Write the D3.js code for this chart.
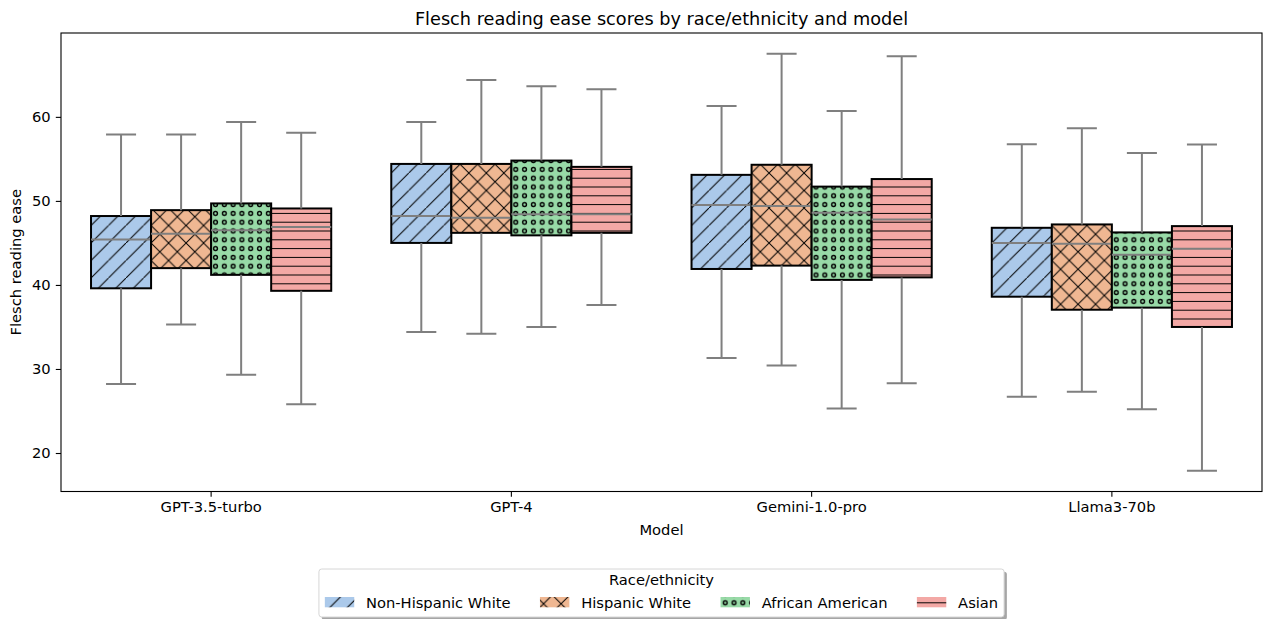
<!DOCTYPE html>
<html>
<head>
<meta charset="utf-8">
<script src="https://cdnjs.cloudflare.com/ajax/libs/d3/7.8.5/d3.min.js"></script>
<style>
  body { margin: 0; background: #fff; }
  svg { display: block; }
  text { font-family: "DejaVu Sans", sans-serif; fill: #000; }
</style>
</head>
<body>
<div id="chart"></div>
<script>
const models = ['GPT-3.5-turbo', 'GPT-4', 'Gemini-1.0-pro', 'Llama3-70b'];
const groups = ['Non-Hispanic White', 'Hispanic White', 'African American', 'Asian'];
const yTicks = [20, 30, 40, 50, 60];

// one row per model: [lower whisker, Q1, median, Q3, upper whisker]
const nonHispanicWhite = [
  [28.2, 39.6, 45.4, 48.2, 57.9],
  [34.4, 45.0, 48.2, 54.4, 59.4],
  [31.3, 41.9, 49.5, 53.1, 61.3],
  [26.7, 38.6, 45.0, 46.8, 56.75]
];
const hispanicWhite = [
  [35.3, 42.0, 46.1, 48.9, 57.9],
  [34.2, 46.2, 48.0, 54.4, 64.4],
  [30.4, 42.3, 49.4, 54.3, 67.5],
  [27.3, 37.05, 44.9, 47.2, 58.65]
];
const africanAmerican = [
  [29.3, 41.2, 46.5, 49.7, 59.4],
  [35.0, 45.9, 48.4, 54.8, 63.65],
  [25.3, 40.6, 48.6, 51.7, 60.7],
  [25.2, 37.3, 43.6, 46.25, 55.7]
];
const asian = [
  [25.8, 39.3, 46.9, 49.1, 58.1],
  [37.6, 46.2, 48.4, 54.05, 63.3],
  [28.3, 40.9, 47.8, 52.6, 67.2],
  [17.9, 35.0, 44.3, 47.0, 56.7]
];

const seriesStats = [nonHispanicWhite, hispanicWhite, africanAmerican, asian];
const colors = ['#abc9ea', '#efb792', '#98daa7', '#f3a8a5'];

const W = 1264, H = 619;
const margin = { left: 61, right: 2, top: 33, bottom: 127.5 };
const width = W - margin.left - margin.right;
const height = H - margin.top - margin.bottom;
const fontSize = 14.7;
const lineGray = '#7f7f7f';

// flat list of boxes
const boxes = [];
seriesStats.forEach((rows, gi) => {
  rows.forEach((s, mi) => {
    boxes.push({ model: models[mi], group: groups[gi], gi: gi,
      lo: s[0], q1: s[1], med: s[2], q3: s[3], hi: s[4] });
  });
});

const svg = d3.select('#chart').append('svg')
  .attr('width', W)
  .attr('height', H);

// hatch patterns
const defs = svg.append('defs');
const hs = 17.5, hs2 = 8.8;
const hatch = [
  { id: 'h0', w: hs, h: hs, draw: p => p.append('path').attr('d', `M0,${hs}L${hs},0`) },
  { id: 'h1', w: hs, h: hs, draw: p => p.append('path').attr('d', `M0,0L${hs},${hs}M0,${hs}L${hs},0`) },
  { id: 'h2', w: hs2, h: hs2, draw: p => p.append('circle').attr('cx', hs2 / 2).attr('cy', hs2 / 2).attr('r', 1.9) },
  { id: 'h3', w: 10, h: hs2, draw: p => p.append('path').attr('d', `M0,${hs2 / 2}L10,${hs2 / 2}`) }
];
hatch.forEach((d, i) => {
  const p = defs.append('pattern')
    .attr('id', d.id)
    .attr('patternUnits', 'userSpaceOnUse')
    .attr('width', d.w)
    .attr('height', d.h);
  p.append('rect').attr('width', d.w).attr('height', d.h).attr('fill', colors[i]);
  d.draw(p).attr('fill', 'none').attr('stroke', '#000').attr('stroke-width', i === 2 ? 1.4 : 1);
});

const g = svg.append('g')
  .attr('transform', 'translate(' + margin.left + ',' + margin.top + ')');

// scales
const all = boxes.flatMap(b => [b.lo, b.hi]);
const lo = d3.min(all), hi = d3.max(all), pad = (hi - lo) * 0.05;
const yScale = d3.scaleLinear().domain([lo - pad, hi + pad]).range([height, 0]);
const xScale = d3.scaleBand().domain(models).range([0, width]).padding(0);
const xInner = d3.scaleBand().domain(groups)
  .range([xScale.bandwidth() * 0.1, xScale.bandwidth() * 0.9]);
const bw = xInner.bandwidth();

// boxes
const boxG = g.selectAll('g.box')
  .data(boxes)
  .enter()
  .append('g')
  .attr('class', 'box')
  .attr('transform', d => 'translate(' + (xScale(d.model) + xInner(d.group)) + ',0)');

boxG.append('rect')
  .attr('x', 0)
  .attr('width', bw)
  .attr('y', d => yScale(d.q3))
  .attr('height', d => yScale(d.q1) - yScale(d.q3))
  .attr('fill', d => 'url(#h' + d.gi + ')')
  .attr('stroke', '#000')
  .attr('stroke-width', 2);

// whiskers and caps
boxG.append('path')
  .attr('d', d => {
    const c = bw / 2, cw = bw / 4;
    return `M${c},${yScale(d.q3)}V${yScale(d.hi)}M${c - cw},${yScale(d.hi)}H${c + cw}` +
      `M${c},${yScale(d.q1)}V${yScale(d.lo)}M${c - cw},${yScale(d.lo)}H${c + cw}`;
  })
  .attr('fill', 'none')
  .attr('stroke', lineGray)
  .attr('stroke-width', 2);

// medians
boxG.append('line')
  .attr('x1', 0)
  .attr('x2', bw)
  .attr('y1', d => yScale(d.med))
  .attr('y2', d => yScale(d.med))
  .attr('stroke', lineGray)
  .attr('stroke-width', 2);

// axes
const yAxis = g.append('g')
  .call(d3.axisLeft(yScale).tickValues(yTicks).tickSize(5.2).tickPadding(5.2).tickSizeOuter(0));
const xAxis = g.append('g')
  .attr('transform', 'translate(0,' + height + ')')
  .call(d3.axisBottom(xScale).tickSize(5.2).tickPadding(5.2).tickSizeOuter(0));
[xAxis, yAxis].forEach(a => {
  a.select('.domain').remove();
  a.selectAll('line').attr('stroke', '#000').attr('stroke-width', 1.1);
  a.selectAll('text').attr('font-size', fontSize).attr('font-family', '"DejaVu Sans", sans-serif').attr('fill', '#000');
});

// frame
g.append('rect')
  .attr('width', width)
  .attr('height', height)
  .attr('fill', 'none')
  .attr('stroke', '#000')
  .attr('stroke-width', 1.1);

// titles
svg.append('text')
  .attr('x', margin.left + width / 2)
  .attr('y', 24.5)
  .attr('text-anchor', 'middle')
  .attr('font-size', 17.7)
  .text('Flesch reading ease scores by race/ethnicity and model');

svg.append('text')
  .attr('x', margin.left + width / 2)
  .attr('y', 535)
  .attr('text-anchor', 'middle')
  .attr('font-size', fontSize)
  .text('Model');

svg.append('text')
  .attr('transform', 'translate(21,' + (margin.top + height / 2) + ') rotate(-90)')
  .attr('text-anchor', 'middle')
  .attr('font-size', fontSize)
  .text('Flesch reading ease');

// legend
const leg = svg.append('g');
const handleW = 29.4, handleH = 10.3, textPad = 11.8, colGap = 29.4, borderPad = 5.9;
const legTop = 569, legBottom = 617;
const shadow = leg.append('rect');
const frame = leg.append('rect');
const items = leg.selectAll('g.item')
  .data(groups)
  .enter()
  .append('g')
  .attr('class', 'item');
items.append('rect')
  .attr('width', handleW)
  .attr('height', handleH)
  .attr('y', 597)
  .attr('fill', (d, i) => 'url(#h' + i + ')');
items.append('text')
  .attr('y', 607.5)
  .attr('font-size', fontSize)
  .text(d => d);

let cursor = 0;
items.each(function() {
  const t = d3.select(this).select('text');
  d3.select(this).select('rect').attr('x', cursor);
  t.attr('x', cursor + handleW + textPad);
  cursor += handleW + textPad + t.node().getComputedTextLength() + colGap;
});
const contentW = cursor - colGap;
const legW = contentW + borderPad * 2;
const legLeft = margin.left + width / 2 - legW / 2;
items.attr('transform', 'translate(' + (legLeft + borderPad) + ',0)');

shadow
  .attr('x', legLeft + 2.8)
  .attr('y', legTop + 2.8)
  .attr('width', legW)
  .attr('height', legBottom - legTop)
  .attr('rx', 2.8)
  .attr('fill', '#4d4d4d')
  .attr('opacity', 0.5);
frame
  .attr('x', legLeft)
  .attr('y', legTop)
  .attr('width', legW)
  .attr('height', legBottom - legTop)
  .attr('rx', 2.8)
  .attr('fill', '#fff')
  .attr('stroke', '#d6d6d6')
  .attr('stroke-width', 1);

leg.append('text')
  .attr('x', margin.left + width / 2)
  .attr('y', 585)
  .attr('text-anchor', 'middle')
  .attr('font-size', fontSize)
  .text('Race/ethnicity');
</script>
</body>
</html>
